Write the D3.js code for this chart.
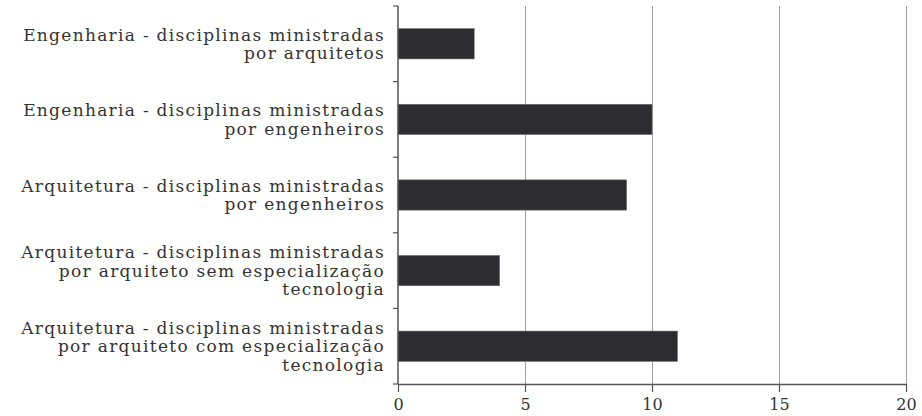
<!DOCTYPE html>
<html><head><meta charset="utf-8">
<script src="https://cdn.jsdelivr.net/npm/d3@7/dist/d3.min.js"></script>
<style>body{margin:0;background:#fff}svg{display:block}</style>
</head><body>
<svg id="c" width="922" height="416"></svg>
<script>
const categories = [
  ["Engenharia - disciplinas ministradas", "por arquitetos"],
  ["Engenharia - disciplinas ministradas", "por engenheiros"],
  ["Arquitetura - disciplinas ministradas", "por engenheiros"],
  ["Arquitetura - disciplinas ministradas", "por arquiteto sem especialização", "tecnologia"],
  ["Arquitetura - disciplinas ministradas", "por arquiteto com especialização", "tecnologia"]
];
const values = [3, 10, 9, 4, 11];
const xTicks = [0, 5, 10, 15, 20];

const svg = d3.select("#c");
const m = {left: 398, right: 16, top: 6, bottom: 32};
const W = 922, H = 416;
const x = d3.scaleLinear().domain([0, 20]).range([m.left, W - m.right]);
const y = d3.scaleBand().domain(d3.range(categories.length)).range([m.top, H - m.bottom]).paddingInner(0.6).paddingOuter(0.3);
const font = "'DejaVu Serif', serif";

// gridlines
svg.append("g").selectAll("line").data(xTicks.slice(1)).join("line")
  .attr("x1", d => x(d)).attr("x2", d => x(d))
  .attr("y1", m.top).attr("y2", H - m.bottom)
  .attr("stroke", "#a0a0a0").attr("stroke-width", 1).attr("shape-rendering", "crispEdges");

// bars
svg.append("g").selectAll("rect").data(values).join("rect")
  .attr("x", x(0)).attr("y", (d, i) => y(i))
  .attr("width", d => x(d) - x(0)).attr("height", y.bandwidth())
  .attr("fill", "#2c2c31").attr("stroke", "#6a6a6a").attr("stroke-width", 0.6);

// x axis
const xa = svg.append("g").attr("transform", `translate(0,${H - m.bottom})`)
  .call(d3.axisBottom(x).tickValues(xTicks).tickSize(8).tickSizeOuter(0).tickPadding(7));
xa.select(".domain").attr("stroke", "#555").attr("stroke-width", 1.5);
xa.selectAll(".tick line").attr("stroke", "#555").attr("stroke-width", 1.2);
xa.selectAll("text").attr("font-family", font).attr("font-size", 16).attr("fill", "#333");

// y axis (category boundary ticks)
const yEdges = d3.range(categories.length + 1).map(i => m.top + i * (H - m.bottom - m.top) / categories.length);
svg.append("line").attr("x1", x(0)).attr("x2", x(0)).attr("y1", m.top).attr("y2", H - m.bottom)
  .attr("stroke", "#555").attr("stroke-width", 1.5);
svg.append("g").selectAll("line").data(yEdges).join("line")
  .attr("x1", x(0) - 5).attr("x2", x(0)).attr("y1", d => d).attr("y2", d => d)
  .attr("stroke", "#555").attr("stroke-width", 1.2);

// labels
const lh = 18.5;
const lg = svg.append("g").attr("font-family", font).attr("font-size", 17).attr("letter-spacing", "1.3px").attr("fill", "#333").attr("text-anchor", "end");
categories.forEach((lines, i) => {
  const cy = y(i) + y.bandwidth() / 2;
  const t = lg.append("text").attr("x", 385).attr("y", cy - (lines.length - 1) * lh / 2);
  lines.forEach((s, j) => t.append("tspan").attr("x", 385).attr("dy", j === 0 ? "0.35em" : lh).text(s));
});
</script>
</body></html>
